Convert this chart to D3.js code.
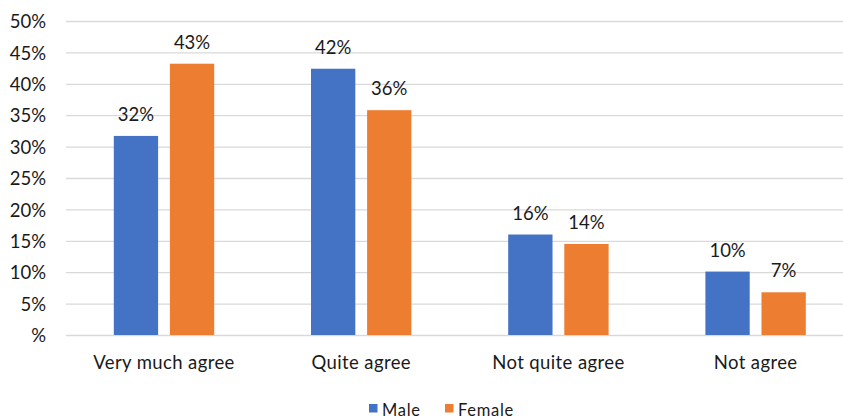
<!DOCTYPE html>
<html lang="en">
<head>
    <meta charset="UTF-8">
    <title>Agreement by gender</title>
    <script src="https://cdn.jsdelivr.net/npm/d3@7/dist/d3.min.js"></script>
    <style>
        body { margin: 0; background: #fff; }
        text { font-family: Lato, "Noto Sans", sans-serif; fill: #1a1a1a; }
    </style>
</head>
<body>
<svg id="chart" width="843" height="419"></svg>
<script>
    // data
    var categories = ["Very much agree", "Quite agree", "Not quite agree", "Not agree"];
    var series = ["Male", "Female"];
    var maleValues = [0.317, 0.424, 0.160, 0.101];
    var femaleValues = [0.432, 0.358, 0.145, 0.068];
    var valueLabels = [["32%", "43%"], ["42%", "36%"], ["16%", "14%"], ["10%", "7%"]];
    var yTicks = [0, 0.05, 0.10, 0.15, 0.20, 0.25, 0.30, 0.35, 0.40, 0.45, 0.50];
    var colors = ["#4472C4", "#ED7D31"];

    var svg = d3.select("#chart");

    // scales
    var x0 = d3.scaleBand()
        .domain(categories)
        .range([65.4, 854.2])
        .padding(0);

    var bw = x0.bandwidth();
    var x1 = d3.scaleBand()
        .domain(series)
        .range([bw / 2 - 50.2, bw / 2 + 50.2])
        .paddingInner(0.21)
        .paddingOuter(0);

    var y = d3.scaleLinear()
        .domain([0, 0.5])
        .range([335, 21]);

    // gridlines + y labels
    var yAxis = d3.axisLeft(y)
        .tickValues(yTicks)
        .tickSize(-(854.2 - 66))
        .tickPadding(20)
        .tickFormat(function (d) {
            var p = Math.round(d * 100);
            return p === 0 ? "%" : p + "%";
        });

    var gy = svg.append("g")
        .attr("transform", "translate(66,0)")
        .call(yAxis);
    gy.select(".domain").remove();
    gy.selectAll(".tick line")
        .attr("stroke", "#d9d9d9")
        .attr("stroke-width", 1.3);
    gy.selectAll(".tick text")
        .attr("font-size", "18.5px")
        .attr("font-family", "Lato, 'Noto Sans', sans-serif")
        .attr("fill", "#1a1a1a")
        .attr("dy", "0.36em");

    // bars
    var rows = categories.map(function (c, i) {
        return {cat: c, vals: [maleValues[i], femaleValues[i]], labels: valueLabels[i]};
    });

    var groups = svg.selectAll("g.grp")
        .data(rows)
        .enter()
        .append("g")
        .attr("class", "grp")
        .attr("transform", function (d) { return "translate(" + x0(d.cat) + ",0)"; });

    groups.selectAll("rect")
        .data(function (d) { return d.vals.map(function (v, j) { return {s: series[j], v: v}; }); })
        .enter()
        .append("rect")
        .attr("x", function (d) { return x1(d.s); })
        .attr("y", function (d) { return y(d.v); })
        .attr("width", x1.bandwidth())
        .attr("height", function (d) { return y(0) - y(d.v); })
        .attr("fill", function (d, j) { return colors[j]; });

    groups.selectAll("text.val")
        .data(function (d) { return d.vals.map(function (v, j) { return {s: series[j], v: v, t: d.labels[j]}; }); })
        .enter()
        .append("text")
        .attr("class", "val")
        .attr("x", function (d) { return x1(d.s) + x1.bandwidth() / 2; })
        .attr("y", function (d) { return y(d.v) - 15; })
        .attr("text-anchor", "middle")
        .attr("font-size", "18.5px")
        .text(function (d) { return d.t; });

    // category labels
    var xAxis = d3.axisBottom(x0).tickSize(0).tickPadding(0);
    var gx = svg.append("g")
        .attr("transform", "translate(0,335)")
        .call(xAxis);
    gx.select(".domain").remove();
    gx.selectAll(".tick text")
        .attr("font-size", "18.5px")
        .attr("font-family", "Lato, 'Noto Sans', sans-serif")
        .attr("fill", "#1a1a1a")
        .attr("letter-spacing", "0.4px")
        .attr("dy", 0)
        .attr("y", 34);

    // legend
    var legendX = [369, 445];
    var legend = svg.selectAll("g.leg")
        .data(series)
        .enter()
        .append("g")
        .attr("class", "leg")
        .attr("transform", function (d, i) { return "translate(" + legendX[i] + ",404)"; });
    legend.append("rect")
        .attr("width", 8.5)
        .attr("height", 8.5)
        .attr("fill", function (d, i) { return colors[i]; });
    legend.append("text")
        .attr("x", 13)
        .attr("y", 11.8)
        .attr("font-size", "16.5px")
        .attr("letter-spacing", "0.7px")
        .text(function (d) { return d; });
</script>
</body>
</html>
